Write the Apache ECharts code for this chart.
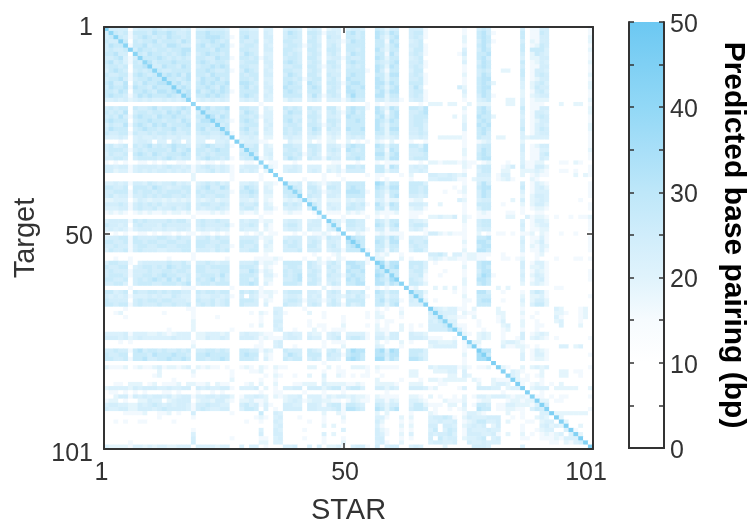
<!DOCTYPE html>
<html><head><meta charset="utf-8">
<style>html,body{margin:0;padding:0;background:#fff}#c{width:749px;height:525px}</style>
<script src="https://cdn.jsdelivr.net/npm/echarts@6/dist/echarts.min.js"></script>
</head><body><div id="c"></div>
<script>
// Values, one digit per cell, grouped by visible stripes. Digit = index in levelBp.
const levelBp = [5, 16, 19, 22, 24, 27, 31, 35, 38, 42];
const rowsTarget = [
"34444 0 344454344434 0 3344443 00 4433 0 33 00 3443 0 343 0 233 0 3443 00 54 2 44 00 4441 0000000 1 00 454 000000 4 0 1144 00000000 1",
"45545 1 555465565445 0 5565554 00 5544 0 43 00 4654 0 554 1 443 0 5645 00 65 3 65 00 4551 0000000 1 00 564 100000 5 0 1154 00000000 1",
"45554 1 456545465545 0 5566654 10 5644 0 44 00 4554 0 453 0 544 0 5545 00 64 2 56 00 4541 0000000 2 00 565 000000 5 0 1144 00000000 2",
"54465 0 545564555465 0 4556545 00 5445 0 34 00 5544 0 553 0 443 1 4655 00 55 1 65 00 3450 0000000 2 00 465 100000 4 0 2144 00000000 2",
"46555 1 556455466544 0 5645565 10 4554 0 43 00 4554 1 454 0 453 0 5555 00 55 2 56 00 4451 0000000 1 00 564 000000 5 0 1254 00000000 1",
"45445 0 465545545566 0 5554655 00 5544 0 44 00 5543 0 553 0 554 0 5545 00 64 2 55 00 3551 0000000 3 00 465 000000 5 0 5553 00000000 2",
"55644 0 554655454565 0 4565545 00 4654 0 33 00 5454 0 454 0 453 0 4655 00 55 1 64 00 4541 0000001 4 00 556 000000 4 0 2543 00000000 1",
"44563 1 465556545454 0 5544655 10 5545 1 43 00 4554 0 553 0 344 1 5445 00 65 2 55 00 3450 0000000 2 00 564 000000 3 0 2244 00000000 1",
"56453 1 545645556555 0 5654554 00 4555 0 44 00 5654 0 454 0 553 0 5655 00 54 3 56 00 4451 0000000 3 00 465 000000 5 0 1243 00000000 2",
"45545 0 556544655465 0 4556565 00 5544 0 34 00 4455 0 553 1 454 0 4545 00 65 2 65 00 4541 0000000 1 00 565 000000 4 0 1144 00000000 1",
"35654 0 454565445555 0 5565445 10 4654 0 43 00 5544 0 454 0 443 0 5555 10 64 1 55 00 3550 0000000 1 00 454 002200 5 0 1443 00000000 1",
"54455 1 565454565646 0 5546555 00 5455 0 44 00 4654 0 553 0 544 0 5655 00 55 2 66 00 4541 0000000 2 00 465 000000 5 0 1454 00000000 2",
"45564 1 455655455456 0 4655645 00 5545 0 33 00 5545 1 455 0 453 0 6555 00 65 2 55 00 4451 0000000 1 00 566 000000 4 0 1244 00000000 1",
"56446 0 546556655645 0 5656556 00 6654 0 43 00 5654 0 654 0 554 1 5665 00 66 3 65 00 5551 0000000 1 00 565 200000 3 0 2453 00000000 2",
"46556 1 655465555565 0 5565465 00 5645 0 44 00 6555 0 565 0 454 0 6556 00 65 2 56 00 4640 0000004 2 00 566 000000 3 0 2544 00000000 2",
"55465 0 556546656556 0 6456565 10 5555 0 34 00 5654 0 555 0 553 0 6655 00 56 3 66 00 4551 0000000 3 00 565 000000 2 0 1453 00000000 1",
"56554 1 465655565466 0 5565654 00 5654 0 43 00 5555 0 464 1 454 0 5755 00 66 2 55 00 4541 0000000 2 00 465 100000 2 0 2344 00000000 1",
"33434 2 343433434343 0 3434343 00 3434 0 33 00 2433 0 343 0 333 1 3544 00 44 2 44 10 3441 0000000 1 00 345 000220 3 0 1222 00000000 2",
"00000 0 000000000000 0 0000000 00 0000 1 00 00 0000 0 000 0 000 0 0000 10 10 1 11 00 0010 2220220 0 20 222 000220 3 0 1110 00200220 1",
"45455 0 544564554565 0 5564556 00 5544 0 32 00 5454 0 544 0 552 0 5655 10 64 2 65 00 5546 0000000 2 00 564 000000 5 0 1144 00000000 2",
"54546 0 455455465645 0 4655545 00 4654 0 33 00 4655 0 453 0 453 1 5645 00 65 1 56 00 4456 0000000 1 00 565 000000 4 0 1443 00000000 2",
"45464 1 565546556554 0 5546465 00 5545 1 33 00 5544 0 554 0 443 0 6555 00 56 2 56 00 4555 0000020 2 00 655 200000 3 0 1454 00000000 1",
"56555 0 455655455465 0 4665554 10 5654 0 43 00 5645 0 453 0 554 0 5565 00 65 3 65 00 4554 0000000 2 00 565 000000 4 0 1244 00000000 1",
"35446 1 565465645556 0 5554645 00 4555 0 34 00 4554 0 554 1 453 0 5555 00 64 2 55 00 4553 0000000 3 00 656 000000 4 0 1343 00000000 2",
"46555 0 456554556455 0 5645555 00 5644 0 43 00 5455 0 465 0 544 0 6556 00 65 2 66 00 4453 0000000 3 00 565 000000 5 0 1354 00000000 2",
"54455 1 544545545445 0 4554454 10 4545 0 33 00 5454 0 454 0 343 0 4555 00 55 2 55 00 4454 0000000 1 00 564 000000 3 0 1344 00000000 1",
"33343 0 343343433433 0 3343343 10 3343 0 22 00 3433 0 332 0 232 0 3434 00 43 2 34 00 3343 0022222 1 00 544 022000 3 2 3333 00000000 1",
"00010 0 344303304303 0 3300334 00 2333 1 10 00 0322 0 201 0 220 0 2010 10 21 0 20 00 1001 0000000 1 00 123 000000 2 0 0000 00000000 1",
"45345 0 545645456554 0 4565445 10 5445 0 32 00 5544 0 554 0 443 1 5655 00 65 2 55 00 5536 0000000 1 00 455 000000 4 0 1244 00000000 1",
"45554 1 454555546456 0 5545655 00 4555 0 33 00 4554 0 454 0 454 0 6545 00 55 1 65 00 4456 0000000 2 00 465 000000 4 0 1133 00000000 2",
"35445 0 565465455565 0 5454555 00 5554 0 34 00 5545 1 453 0 343 0 4555 00 66 2 56 00 4445 0000000 2 00 565 000000 3 0 1145 00000000 1",
"44554 0 455554565455 0 4565545 10 4554 1 23 00 4654 0 544 1 544 0 5565 00 55 2 66 00 4555 0000000 1 00 566 000000 3 0 1143 00000000 1",
"10101 0 011010100110 0 1011010 00 0110 2 01 10 0010 0 000 0 011 0 0010 00 10 1 11 00 0010 2212221 2 11 012 000100 3 1 1220 00110210 0",
"44344 1 344443454434 1 3454343 10 3444 1 32 10 3343 0 333 0 223 0 5545 00 55 1 65 00 3434 0000000 2 10 455 001240 4 1 1442 00000000 1",
"44233 1 343434434343 1 3345343 10 4343 0 22 00 3443 0 343 0 323 1 4444 00 55 2 44 00 3343 0000000 1 00 355 002200 2 2 2321 00110100 1",
"00000 0 000000000000 2 0000000 10 0000 1 00 10 0000 0 000 1 001 0 0000 10 11 0 00 10 2000 4433432 3 00 444 013300 2 0 1211 00000202 1",
"00000 0 000000000000 2 0000000 10 0000 1 00 00 0000 1 000 1 000 1 0000 00 10 1 00 00 1000 3344431 1 02 333 012310 0 0 2100 00000000 0",
"33434 1 443543445343 0 3454534 00 3343 0 22 10 4334 0 432 1 344 0 5555 00 76 2 55 00 5553 0000000 1 00 464 000000 4 0 1321 00000000 1",
"55445 0 555465434455 0 4564465 00 4654 0 32 00 5454 0 553 0 554 0 5655 00 65 3 66 00 5545 0000010 2 00 566 000000 5 0 1342 00000000 1",
"44555 1 545545455545 0 5455444 10 5565 0 33 00 5545 0 454 1 344 0 6665 10 54 2 55 00 5545 0001001 2 00 465 000000 3 0 1333 00000000 1",
"45344 1 445454554454 0 4544554 00 4454 0 22 00 4554 0 544 0 443 0 5555 00 54 1 56 00 4434 0000000 1 00 465 000000 2 0 2443 00000000 1",
"22333 0 243233232323 0 3234233 00 3323 0 21 00 2323 1 323 0 222 0 3233 00 33 1 22 00 1220 0000003 2 00 344 000020 4 0 2343 00000010 0",
"44454 1 454545344445 0 4554454 00 5445 0 32 00 5454 0 553 0 433 0 4545 10 64 2 65 00 4443 0020000 1 00 555 001000 2 0 2442 00000000 1",
"33344 1 454453445345 0 4344543 00 4553 0 33 10 3443 0 453 0 343 0 5544 00 55 1 55 00 2331 0000000 1 00 355 000000 1 0 1221 00000000 1",
"12121 0 121211212212 0 1112121 00 2112 0 11 00 1211 0 011 0 111 0 2121 00 21 1 12 00 1110 0000000 1 00 121 000110 1 0 0110 00000000 0",
"00000 0 000000000000 1 0000000 00 0000 1 00 00 0000 0 001 0 000 1 0000 10 10 1 00 00 1100 2232240 2 10 111 000220 0 3 1221 01001011 2",
"34444 1 545444454553 0 4544544 00 4344 1 22 00 3443 0 344 0 443 1 5544 00 54 2 55 00 4332 0000000 2 00 455 000000 3 0 1332 00000000 1",
"54434 0 454443544444 0 4544445 10 4454 0 31 00 4553 0 444 0 343 0 5544 00 65 2 56 00 4554 0000000 1 00 455 000000 4 0 1233 00000000 1",
"34343 1 344433433443 0 3433433 00 4333 0 21 00 3443 0 433 0 343 0 4434 10 44 1 44 00 3431 0000000 1 00 344 000000 3 0 1122 00000000 1",
"10101 0 011010110101 1 0110101 00 0101 2 01 10 0010 1 011 2 101 2 0021 00 12 1 11 10 0001 4421211 1 00 201 011010 1 1 2021 00100100 0",
"34455 1 544445543544 0 4453544 00 4444 1 22 00 3444 0 443 1 544 0 6655 00 55 3 65 10 4443 0000000 1 00 556 000000 3 0 1131 00000000 1",
"55445 1 554554455445 0 5554455 00 5554 0 23 00 5454 0 454 0 443 0 6765 00 65 2 66 00 5445 0000000 2 00 665 000000 4 0 1241 00000000 1",
"44544 1 455445544555 0 5544544 10 5445 0 32 00 4554 0 553 0 453 0 5665 00 55 2 55 00 4544 0000000 1 00 566 000000 3 0 2132 00000000 1",
"35445 1 454443344455 0 4443545 00 4455 0 22 00 4445 0 444 0 344 1 5555 10 54 1 54 00 3553 0000000 2 00 665 000000 3 0 1131 00000000 1",
"00000 0 000000000000 1 0000000 00 0000 0 10 00 0000 0 010 0 012 0 0000 00 21 2 00 10 0000 4453033 1 22 111 001000 1 0 0120 00000000 0",
"00100 1 000000010000 1 0000001 00 0001 1 11 21 0000 1 002 0 102 1 0000 10 22 0 00 20 1000 2321221 1 22 110 001101 2 0 0100 01000110 1",
"35544 1 034444454453 0 4454344 00 4445 1 22 10 5555 0 542 1 453 0 6655 10 67 3 66 00 5553 0100000 1 00 566 000000 4 0 1331 00000000 0",
"54455 0 345545465455 0 5545555 00 5554 0 21 00 4554 0 543 0 544 0 5665 00 56 4 67 00 5453 0000000 2 00 565 000000 4 0 2231 00000000 0",
"45444 1 444544554554 0 5544455 00 4465 1 32 00 5455 0 454 0 453 0 6556 00 65 3 55 00 4552 0001000 1 00 466 000000 3 0 1321 00000000 1",
"45554 1 445545655445 0 4555464 00 5554 0 33 10 5456 0 553 0 544 1 5655 00 76 3 65 00 4451 0010000 1 00 576 100000 4 0 2431 00000000 1",
"55445 0 454565464635 0 5456354 00 5535 0 22 00 4456 0 454 0 443 0 6565 00 65 4 76 00 5431 0000000 2 00 665 000000 3 0 1341 00000000 1",
"44553 0 455544555456 0 4554555 00 5565 0 31 00 5554 0 553 0 354 0 5566 00 66 3 65 10 5542 0000000 2 00 565 000000 2 0 2321 00000000 0",
"00000 1 000000000011 1 0000000 10 0000 1 00 00 0000 0 000 2 011 0 0000 10 10 1 00 00 1200 0202020 1 00 000 020200 0 0 0000 01100000 0",
"55345 0 544554545544 0 5455455 00 5454 1 22 10 4555 0 443 0 454 0 5445 00 65 3 55 00 5552 0000010 1 00 664 001000 1 0 3541 00000000 0",
"43434 1 333434335433 0 4334434 10 4043 1 12 00 3443 0 434 0 443 2 4354 10 55 2 44 00 4451 0000000 2 00 555 000000 2 0 2231 00000000 1",
"54444 0 454554554443 0 5445345 00 5554 0 21 00 4554 1 443 1 353 0 5555 00 56 3 55 10 4342 0100000 1 10 566 001000 3 0 2442 00000000 0",
"55455 1 454445445445 0 4545345 00 5444 0 30 00 5443 0 454 0 454 1 5345 00 55 2 56 00 3331 0000000 1 00 555 000000 2 0 3552 00000000 0",
"00001 0 000000000001 1 0000000 00 0000 0 00 33 0000 1 000 0 000 0 0000 00 10 1 00 10 0000 6432331 1 02 000 020000 1 0 0000 03200012 0",
"00120 0 000000100000 1 0000000 00 0010 2 10 43 1000 0 200 1 000 0 0000 10 21 0 00 20 0000 4543330 2 11 000 022000 2 0 0100 02210012 0",
"00001 0 000000000000 1 0000100 00 0000 1 00 33 0000 0 000 1 000 1 0000 10 22 0 00 10 0000 3463221 1 02 000 012000 1 0 1000 03100012 0",
"00000 0 000000000000 2 0000000 00 0000 1 00 44 0000 0 100 0 000 1 0000 00 10 1 10 00 0000 4354330 0 00 100 013000 2 0 0100 02300010 0",
"00000 0 000000000000 2 0000000 00 0010 2 00 43 0000 0 101 1 000 2 0000 10 20 1 00 20 1010 4445331 1 00 100 002300 2 0 0110 00300020 0",
"00000 0 000000010000 2 0000000 10 0000 0 00 34 0010 0 020 1 011 1 0000 00 21 1 00 20 1000 4444643 1 00 010 001200 1 0 0100 00000000 0",
"33334 1 333223212333 0 2233323 00 3433 2 11 00 3433 0 322 0 343 0 3333 10 33 1 44 00 4332 0000000 2 10 232 001000 4 0 1232 00000000 0",
"44434 2 343333334333 0 2243343 00 4443 1 21 11 3443 0 433 0 345 0 4554 10 44 2 44 00 4443 1110010 4 00 232 001001 4 0 2321 01000000 1",
"00010 1 000000000000 1 0000000 00 0000 1 00 34 0000 0 000 1 011 1 0000 00 20 1 00 20 1000 3322230 1 52 200 002332 1 0 0000 00000000 0",
"00000 0 000000000000 2 0000000 00 0001 1 00 34 0010 0 000 1 000 2 0000 00 32 0 00 10 0000 2333330 1 34 100 003112 2 1 0100 00330230 0",
"44544 1 564554544545 0 4455454 00 5544 1 32 00 5444 0 543 0 453 0 5766 00 67 3 76 00 5553 0000000 1 00 666 000000 2 0 1321 00000000 0",
"54455 0 555465556554 0 5565555 00 5655 0 21 00 4654 0 555 0 544 1 5665 00 66 4 66 00 5543 0000000 2 00 765 000000 3 0 1331 00000000 1",
"55445 1 556445565565 0 5545565 00 5554 0 31 00 5455 0 454 0 443 0 6765 00 77 3 65 00 6653 0000000 1 00 776 000000 3 0 1221 00000000 0",
"00000 0 000000000000 0 0000000 00 0000 0 00 00 0000 0 000 1 000 0 0000 00 00 0 00 00 0000 0000000 1 00 000 000000 0 0 0000 00000000 0",
"21112 0 121123122123 0 2121101 00 1210 2 10 21 1000 0 220 0 201 0 0222 10 21 1 11 00 0000 3233331 2 10 112 002100 2 0 2323 00000000 1",
"00000 0 000002000000 2 0000000 10 0011 2 00 10 0000 0 000 1 001 1 0000 10 10 0 00 00 2200 0222330 3 00 000 000032 1 0 0020 00220110 0",
"00000 0 000012000000 1 0000000 10 0000 0 10 21 0010 0 200 3 002 1 0101 10 01 0 00 00 2200 0000220 3 20 000 000032 0 1 0120 00220010 0",
"00000 0 000000001000 0 0000000 20 0000 1 00 10 0000 0 000 2 000 0 0000 00 20 0 00 10 0010 2212222 2 02 100 211112 1 1 0010 00000000 0",
"00110 2 220120111202 2 1120211 00 0120 2 00 20 0011 2 220 3 222 2 1121 00 22 2 21 00 2220 0011000 0 00 200 233202 1 0 1210 10200000 0",
"23333 2 434443343344 0 4343344 10 3334 0 20 10 3344 0 444 2 455 1 4553 00 44 2 43 00 4443 1200001 3 00 444 330233 6 0 2333 02222200 2",
"01101 0 101000110100 0 1001010 00 0000 1 00 11 0000 1 000 1 000 1 0000 00 00 1 00 00 0000 0000000 0 00 000 001000 0 0 0010 00000000 0",
"00244 1 434344342344 1 3344344 20 1334 3 20 21 2334 0 333 1 323 3 2322 10 21 1 11 00 2210 2010010 2 01 332 333212 2 1 3110 10110000 1",
"12201 0 022433023444 0 2332442 10 2231 1 20 00 2343 1 233 2 211 0 1321 10 33 1 32 00 3321 0002111 2 00 122 000122 1 2 2322 01100000 0",
"34433 2 243454343443 1 4454433 00 4534 1 31 00 4433 0 443 1 455 1 5543 00 54 2 44 00 3552 1110220 3 01 554 011332 2 2 1344 00000000 0",
"43344 2 244434544443 1 4543344 00 3554 0 30 10 4444 0 443 3 345 1 6654 00 65 2 56 00 4554 0100101 2 00 655 011221 1 0 3544 00000000 1",
"00001 1 112001120100 4 0000000 10 0000 5 00 43 0000 0 000 2 002 1 0000 00 20 2 00 00 1000 2100000 1 33 210 000200 1 0 0033 22222222 0",
"00000 0 000001000000 1 0000000 00 0001 2 10 34 0001 0 000 1 000 2 0000 00 33 1 00 20 2000 3445410 2 43 334 440010 1 0 0232 03200000 0",
"00101 0 011000001000 0 0000000 00 0100 1 00 43 0000 0 100 1 000 1 0000 00 42 0 00 10 1000 3343340 1 23 553 340200 0 1 1023 30420000 0",
"00000 0 000000000000 0 0000000 00 0000 0 00 34 0000 0 000 2 020 0 0000 00 31 0 00 20 2000 4404430 2 34 340 240000 1 0 0034 23240020 0",
"00000 0 000000000000 1 0000000 00 0000 3 00 43 0000 1 000 0 000 3 0000 00 42 1 00 10 1000 3503540 1 43 334 330000 1 0 0123 30034100 0",
"00000 0 000000000000 3 0000000 00 0000 4 00 44 0000 0 000 3 020 0 0000 00 43 1 00 20 3000 4344530 1 44 433 410200 2 0 1012 12303420 0",
"00000 0 000000000000 4 0000000 10 0000 1 10 34 0000 1 000 1 000 1 0000 00 44 0 00 10 1000 4053440 2 33 450 340000 1 1 0011 12133350 0",
"00000 1 000000000000 4 0000000 00 0000 2 20 33 0000 0 000 1 000 2 0000 00 34 1 00 20 0000 3443340 0 43 343 330000 0 0 0000 11021345 0",
"32222 1 332323322333 0 3333233 00 3033 0 10 00 3340 0 303 0 223 1 0344 10 40 3 44 00 3430 0002000 0 04 443 000000 3 0 0000 00000000 3"
];
const diagonalBp = [44,40,42,41,42,43,42,41,40,43,42,41,43,42,44,43,42,41,40,42,43,41,42,44,43,42,45,44,43,42,41,43,40,42,44,42,41,43,42,40,42,41,43,44,42,40,43,42,41,42,43,44,42,43,41,42,44,43,42,41,43,42,41,43,44,42,43,45,44,43,42,44,43,42,44,43,44,45,44,43,45,44,43,42,44,45,43,44,42,43,44,43,45,44,43,44,45,44,45,44,45];
const tickLabels = [1, 50, 101];
const colorbarMax = 50;
const colorStops = ['#ffffff','#ffffff','#ffffff','#f6fbfe','#e0f3fc','#d0edfb','#bee7f9','#a8dff8','#92d8f6','#7fd0f4','#6cc8f2'];

const cats = Array.from({length: 101}, (_, i) => i + 1);
const cells = [];
rowsTarget.forEach((row, r) => {
  const digits = row.replace(/\s/g, '').padEnd(101, '0').slice(0, 101);
  for (let c = 0; c < 101; c++) {
    cells.push([c, r, c === r ? diagonalBp[r] : levelBp[+digits[c]]]);
  }
});

const ink = '#333333';
const font = "'Liberation Sans', Arial, Helvetica, sans-serif";
const rect = {left: 104, top: 27, width: 489, height: 422, outerBoundsMode: 'none'};
const lineStyle = {color: ink, width: 2};
const labelText = {color: ink, fontFamily: font, fontSize: 25};
function valAxis(gridIndex, position, inverse, labels, extra) {
  return Object.assign({
    type: 'value', gridIndex, position, inverse, min: 1, max: 101, z: 10, splitLine: {show: false},
    axisLine: {show: true, onZero: false, lineStyle},
    axisTick: {show: true, inside: true, length: 6, customValues: tickLabels, lineStyle: {color: ink, width: 1.5}},
    axisLabel: Object.assign({show: labels, customValues: tickLabels, margin: 11,
      showMinLabel: true, showMaxLabel: true, hideOverlap: false}, labelText)
  }, extra || {});
}
const xLabelNudge = {1: [0, 5, 0, 0], 50: [0, 0, 0, 3], 101: [0, 14, 0, 0]};
const yLabelNudge = {1: [2, 0, 0, 0], 50: [7, 0, 0, 0], 101: [11, 0, 0, 0]};
function nudged(map) {
  const rich = {};
  Object.keys(map).forEach(k => { rich['n' + k] = Object.assign({padding: map[k]}, labelText); });
  return {rich, formatter: v => `{n${v}|${v}}`};
}
const stopsGrad = colorStops.map((color, i) => ({offset: i / (colorStops.length - 1), color}));
function barY(position, labels, extra) {
  return Object.assign({
    type: 'value', gridIndex: 2, position, min: 0, max: colorbarMax, interval: 5, z: 10, splitLine: {show: false},
    axisLine: {show: true, lineStyle},
    axisTick: {show: true, inside: true, length: 5, lineStyle: {color: ink, width: 1.5}},
    axisLabel: Object.assign({show: labels, margin: 6,
      rich: {t: Object.assign({padding: [6, 0, 0, 0]}, labelText)},
      formatter: v => (v % 10 === 0 ? `{t|${v}}` : '')}, labelText)
  }, extra || {});
}
function barX(position) {
  return {type: 'category', gridIndex: 2, position, data: ['bp'], boundaryGap: true, z: 10,
    axisLine: {show: true, lineStyle}, axisTick: {show: false}, axisLabel: {show: false}};
}

const xBottom = valAxis(1, 'bottom', false, true, {name: 'STAR', nameLocation: 'middle', nameGap: 47,
  nameTextStyle: {color: ink, fontFamily: font, fontSize: 29}});
Object.assign(xBottom.axisLabel, nudged(xLabelNudge), {margin: 12});
const yLeft = valAxis(1, 'left', true, true, {name: 'Target', nameLocation: 'middle', nameGap: 64,
  nameTextStyle: {color: ink, fontFamily: font, fontSize: 29}});
Object.assign(yLeft.axisLabel, nudged(yLabelNudge));

const chart = echarts.init(document.getElementById('c'), null, {renderer: 'canvas'});
chart.setOption({
  animation: false,
  backgroundColor: '#ffffff',
  grid: [rect, rect, {left: 629, top: 22, width: 35, height: 426, outerBoundsMode: 'none'}],
  xAxis: [
    {type: 'category', gridIndex: 0, data: cats, show: false},
    xBottom,
    valAxis(1, 'top', false, false),
    barX('bottom'),
    barX('top')
  ],
  yAxis: [
    {type: 'category', gridIndex: 0, data: cats, inverse: true, show: false},
    yLeft,
    valAxis(1, 'right', true, false),
    barY('left', false),
    barY('right', true, {name: 'Predicted base pairing (bp)', nameLocation: 'middle', nameRotate: -90, nameGap: 54,
      nameTextStyle: {color: '#000000', fontFamily: font, fontSize: 30, fontWeight: 'bold'}})
  ],
  visualMap: {show: false, seriesIndex: 0, min: 0, max: colorbarMax, inRange: {color: colorStops}},
  series: [
    {type: 'heatmap', xAxisIndex: 0, yAxisIndex: 0, data: cells, progressive: 0, silent: true, emphasis: {disabled: true}},
    {type: 'bar', xAxisIndex: 3, yAxisIndex: 3, data: [colorbarMax], barWidth: '100%', silent: true,
      itemStyle: {color: new echarts.graphic.LinearGradient(0, 1, 0, 0, stopsGrad)}}
  ]
});
</script></body></html>
